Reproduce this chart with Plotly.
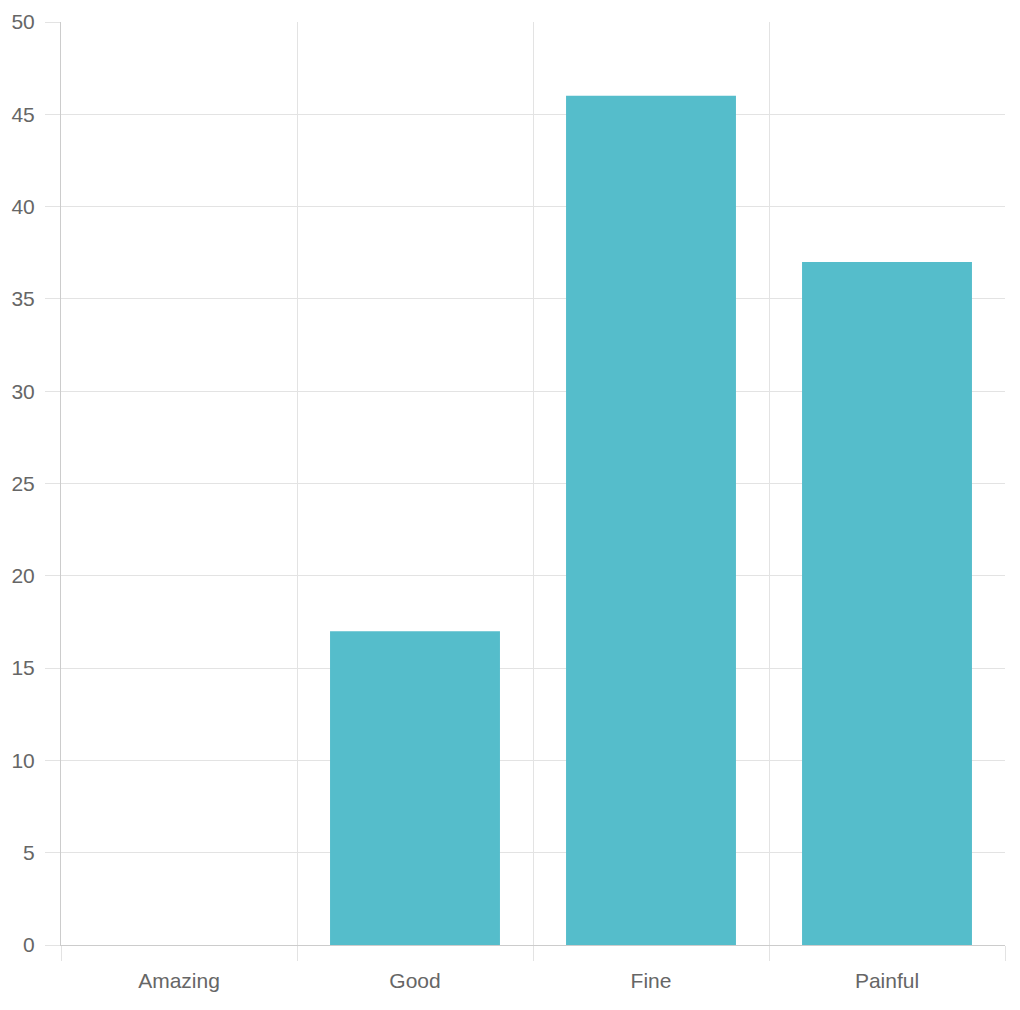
import plotly.graph_objects as go

# Data
categories = ["Amazing", "Good", "Fine", "Painful"]
counts = [0, 17, 46, 37]

grid_color = "#e3e3e3"
axis_color = "#cccccc"
text_color = "#666666"

fig = go.Figure(go.Bar(
    x=categories,
    y=counts,
    marker=dict(color="#55bdcb", line=dict(width=0)),
    hoverinfo="x+y",
))

# page body has an 8px margin, so the figure is a bit smaller than the window
fig.update_layout(
    width=1012,
    height=1002,
    margin=dict(l=53, r=15, t=14, b=65),
    plot_bgcolor="white",
    paper_bgcolor="white",
    bargap=0.28,
    showlegend=False,
    font=dict(family="Liberation Sans, Arial, sans-serif", size=21, color=text_color),
)

fig.update_xaxes(
    type="category",
    range=[-0.5, 3.5],
    tickson="boundaries",
    ticks="outside",
    ticklen=15,
    tickcolor=grid_color,
    ticklabelstandoff=17,
    showgrid=True,
    gridcolor=grid_color,
    gridwidth=1,
    showline=True,
    linecolor=axis_color,
    linewidth=1,
    zeroline=False,
    automargin=False,
)

fig.update_yaxes(
    range=[0, 50],
    dtick=5,
    ticks="outside",
    ticklen=15,
    tickcolor=grid_color,
    ticklabelstandoff=6,
    showgrid=True,
    gridcolor=grid_color,
    gridwidth=1,
    showline=True,
    linecolor=axis_color,
    linewidth=1,
    zeroline=True,
    zerolinecolor=axis_color,
    zerolinewidth=1,
    automargin=False,
)

fig.write_html("out.html")
